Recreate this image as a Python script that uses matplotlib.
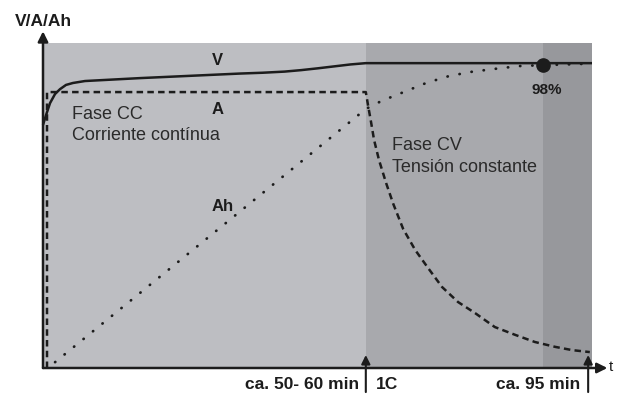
import matplotlib
matplotlib.use('Agg')
import matplotlib.pyplot as plt

plt.rcParams['font.family'] = ['Liberation Sans', 'DejaVu Sans']

# charge curves (time in % of full scale, values in % of full scale)
T_V = [0, 0.55, 1.28, 2.19, 3.10, 4.19, 5.46, 7.65, 17.7, 35.9, 40.0, 44.0, 47.0,
       50.0, 53.0, 56.0, 58.8, 100]
V = [74.8, 77.8, 81.5, 84.3, 85.8, 87.1, 87.7, 88.3, 89.2, 90.6, 90.85, 91.2, 91.65,
     92.2, 92.8, 93.4, 93.8, 93.8]

T_A = [0.73, 0.73, 58.8, 59.2, 59.75, 60.3, 61.2, 62.5, 63.8, 65.6, 67.8, 70.0, 72.7,
       75.6, 78.7, 82.3, 86.0, 89.6, 93.3, 96.4, 99.6]
A = [0, 84.9, 84.9, 80.9, 75.7, 70.2, 64.0, 56.9, 50.5, 42.8, 36.3, 31.1, 24.9,
     20.3, 16.9, 12.6, 10.2, 8.0, 6.5, 5.5, 4.9]

T_AH = [2.2, 58.8, 61.7, 65.7, 69.8, 73.9, 77.9, 82.1, 86.7, 91.1, 97.3, 100]
AH = [1.8, 79.7, 82.2, 84.9, 87.7, 89.8, 91.1, 92.0, 92.9, 93.2, 93.5, 93.7]

# phases
CC_END = 58.8
TAIL_START = 91.1
FULL_T = 100
PHASE_COLORS = ['#bdbec2', '#a8a9ad', '#97989c']

# 98 % mark on the Ah curve
MARK_98_T, MARK_98_AH = 91.1, 93.2

# time markers on the t axis
MARK_T = [58.8, 99.3]

ink = '#1c1c1c'

fig = plt.figure(figsize=(6.21, 3.94), dpi=100)
ax = fig.add_axes([43 / 621, 26 / 394, 549 / 621, 325 / 394])
ax.set_xlim(0, 100)
ax.set_ylim(0, 100)
for s in ax.spines.values():
    s.set_visible(False)
ax.set_xticks([])
ax.set_yticks([])

ax.axvspan(0, CC_END, color=PHASE_COLORS[0], lw=0)
ax.axvspan(CC_END, TAIL_START, color=PHASE_COLORS[1], lw=0)
ax.axvspan(TAIL_START, FULL_T, color=PHASE_COLORS[2], lw=0)

ax.plot(T_V, V, color=ink, lw=1.8, solid_capstyle='butt', clip_on=False)
ax.plot(T_A, A, color=ink, lw=1.8, linestyle=(0, (2.6, 1.7)), clip_on=False)
ax.plot(T_AH, AH, color=ink, lw=2.0, linestyle=(0, (0.1, 4.3)),
        dash_capstyle='round', clip_on=False)
ax.plot([MARK_98_T], [MARK_98_AH], 'o', color=ink, ms=9.5, clip_on=False)

# axes with arrow heads
arrow_kw = dict(arrowstyle='-|>', color=ink, lw=1.8, mutation_scale=15,
                shrinkA=0, shrinkB=0)
ax.annotate('', xy=(0, 103.6), xytext=(0, 0), arrowprops=arrow_kw,
            annotation_clip=False)
ax.annotate('', xy=(102.8, 0), xytext=(0, 0), arrowprops=arrow_kw,
            annotation_clip=False)
for t in MARK_T:
    ax.annotate('', xy=(t, 4.0), xytext=(t, -7.4),
                arrowprops=dict(arrowstyle='-|>', color=ink, lw=1.5,
                                mutation_scale=13, shrinkA=0, shrinkB=0),
                annotation_clip=False)

bold = dict(fontweight='bold', color=ink)
ax.text(0, 106.5, 'V/A/Ah', ha='center', va='center', fontsize=12.5,
        clip_on=False, **bold)
ax.text(103.5, 0.2, 't', ha='center', va='center', fontsize=11,
        color=ink, clip_on=False)
ax.text(31.8, 94.5, 'V', ha='center', va='center', fontsize=12, **bold)
ax.text(31.8, 79.6, 'A', ha='center', va='center', fontsize=12, **bold)
ax.text(32.7, 49.8, 'Ah', ha='center', va='center', fontsize=12, **bold)
ax.text(91.8, 85.5, '98%', ha='center', va='center', fontsize=11, **bold)

ax.text(5.3, 76.6, 'Fase CC', ha='left', va='baseline', fontsize=13, color='#2a2a2a')
ax.text(5.3, 70.2, 'Corriente contínua', ha='left', va='baseline', fontsize=13,
        color='#2a2a2a')
ax.text(63.6, 67.1, 'Fase CV', ha='left', va='baseline', fontsize=13, color='#2a2a2a')
ax.text(63.6, 60.3, 'Tensión constante', ha='left', va='baseline', fontsize=13,
        color='#2a2a2a')

ax.text(57.6, -5.2, 'ca. 50- 60 min', ha='right', va='center', fontsize=12.5,
        clip_on=False, **bold)
ax.text(60.7, -5.2, '1C', ha='left', va='center', fontsize=12.5,
        clip_on=False, **bold)
ax.text(97.9, -5.2, 'ca. 95 min', ha='right', va='center', fontsize=12.5,
        clip_on=False, **bold)

fig.savefig('out.png', dpi=100, facecolor='white')
